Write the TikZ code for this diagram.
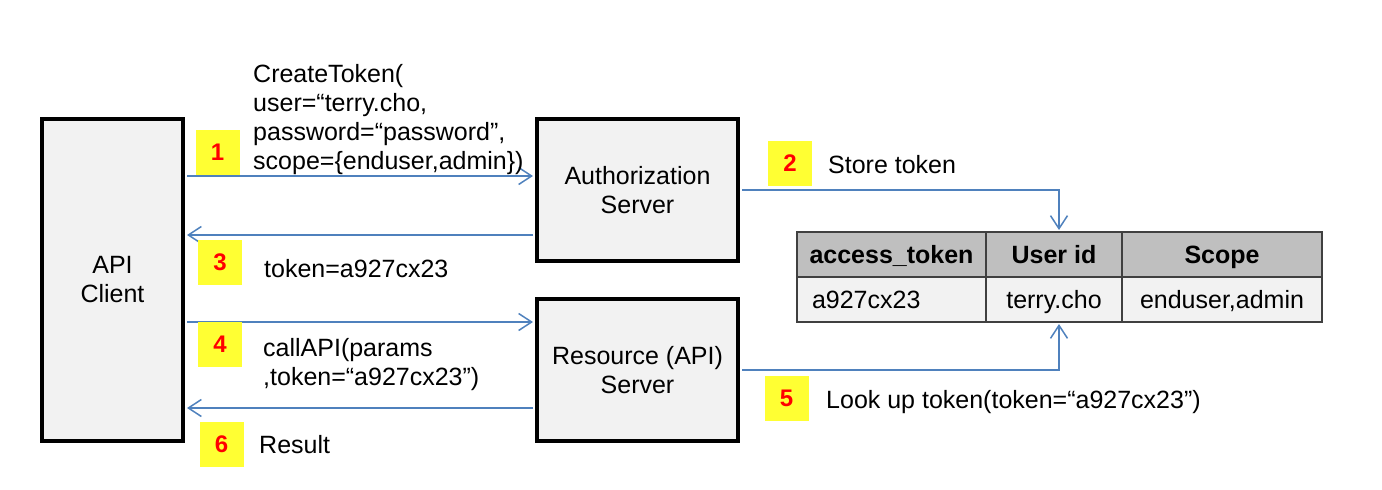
\documentclass[tikz,border=0pt]{standalone}
\usepackage{fontspec}
\setmainfont{Liberation Sans}
\usetikzlibrary{arrows.meta}
\definecolor{linkblue}{RGB}{79,129,189}
\definecolor{panel}{RGB}{242,242,242}
\definecolor{hdr}{RGB}{191,191,191}
\definecolor{tagyellow}{RGB}{255,255,51}
\definecolor{gridline}{RGB}{64,64,64}
\begin{document}
\begin{tikzpicture}[x=1pt,y=-1pt,
  every node/.style={font=\fontsize{25}{29}\selectfont, inner sep=0pt},
  party/.style={draw=black, line width=4pt, fill=panel, align=center},
  msg/.style={draw=linkblue, line width=1.5pt,
    -{Straight Barb[length=13pt,width=17pt,line width=1.5pt]}},
  tag/.style={fill=tagyellow, text=red, font=\fontsize{24}{24}\selectfont\bfseries,
    minimum width=44pt, minimum height=45pt},
  cell/.style={draw=gridline, line width=2pt, minimum height=45pt,
    text height=18pt, text depth=0pt},
  note/.style={anchor=base west, align=left}
]
\useasboundingbox (0,0) rectangle (1382,490);

% parties
\node[party, minimum width=141pt, minimum height=322pt] (client) at (112.5,280) {API\\Client};
\node[party, minimum width=201pt, minimum height=142pt] (auth) at (637.5,190) {Authorization\\Server};
\node[party, minimum width=201pt, minimum height=142pt] (res) at (637.5,370) {Resource (API)\\Server};

% token table
\node[cell, fill=hdr, minimum width=189pt, font=\fontsize{25}{29}\selectfont\bfseries] (h1) at (891.5,254.5) {access\_token};
\node[cell, fill=hdr, minimum width=136pt, font=\fontsize{25}{29}\selectfont\bfseries] (h2) at (1054,254.5) {User id};
\node[cell, fill=hdr, minimum width=200pt, font=\fontsize{25}{29}\selectfont\bfseries] (h3) at (1222,254.5) {Scope};
\node[cell, fill=panel, text width=159pt, inner xsep=15pt, align=left] (d1) at (891.5,299.5) {a927cx23};
\node[cell, fill=panel, minimum width=136pt] (d2) at (1054,299.5) {terry.cho};
\node[cell, fill=panel, minimum width=200pt] (d3) at (1222,299.5) {enduser,admin};

% message levels on the server sides
\coordinate (m1) at ([yshift=14pt]auth.west);
\coordinate (m3) at ([yshift=-45pt]auth.west);
\coordinate (m4) at ([yshift=48pt]res.west);
\coordinate (m6) at ([yshift=-38pt]res.west);

% messages
\draw[msg, shorten <=2pt, shorten >=2pt] (client.east |- m1) -- (m1);
\draw[msg, shorten <=2pt, shorten >=2pt] (m3) -- (client.east |- m3);
\draw[msg, shorten <=2pt, shorten >=2pt] (client.east |- m4) -- (m4);
\draw[msg, shorten <=2pt, shorten >=2pt] (m6) -- (client.east |- m6);
\draw[msg, shorten <=2pt, shorten >=1pt] (auth.east) -| ([xshift=5pt]h2.north);
\draw[msg, shorten <=2pt, shorten >=1pt] (res.east) -| ([xshift=5pt]d2.south);

% step numbers
\node[tag] (n1) at (217.5,152.5) {1};
\node[tag] (n2) at (790,163.5) {2};
\node[tag] (n3) at (220,262.5) {3};
\node[tag] (n4) at (220,344.5) {4};
\node[tag] (n5) at (786.5,398.5) {5};
\node[tag] (n6) at (221.5,444) {6};

% message texts (base anchor sits on the last line)
\node[note] (t1) at (253,169) {CreateToken(\\user=“terry.cho,\\password=“password”,\\scope=\{enduser,admin\})};
\node[note] (t2) at (828,173) {Store token};
\node[note] (t3) at (264,277) {token=a927cx23};
\node[note] (t4) at (263,385) {callAPI(params\\,token=“a927cx23”)};
\node[note] (t5) at (826,408) {Look up token(token=“a927cx23”)};
\node[note] (t6) at (259,453) {Result};
\end{tikzpicture}
\end{document}
